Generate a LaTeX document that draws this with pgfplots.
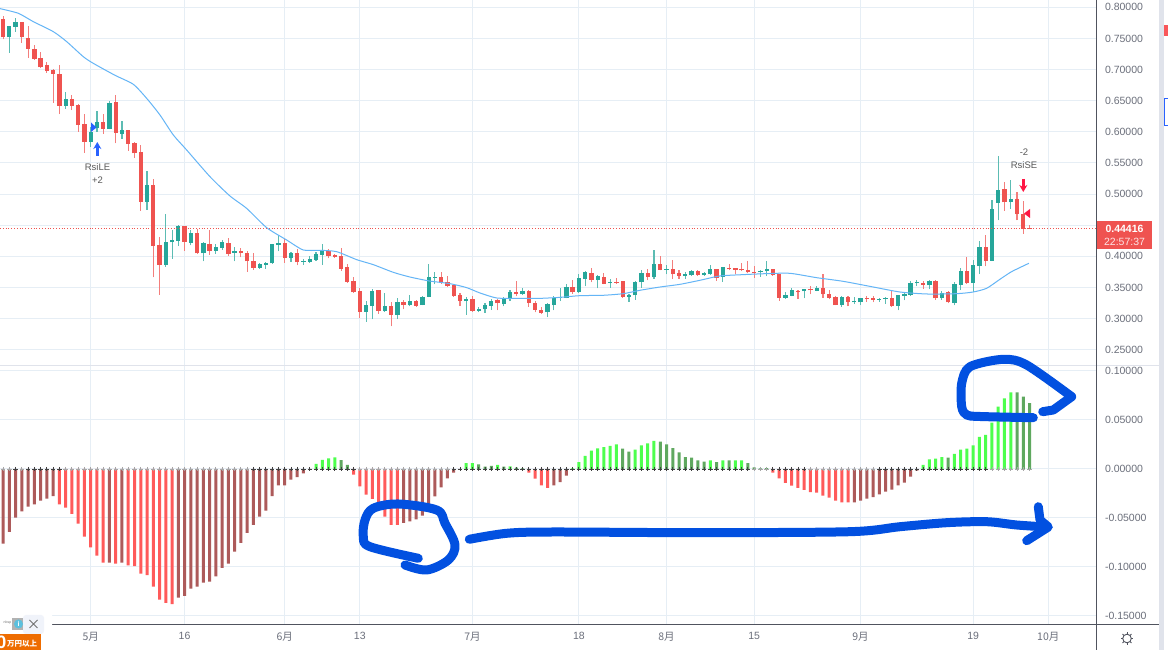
\documentclass[border=0pt]{standalone}
\usepackage{fontspec}
\usepackage{pgfplots}
\usepackage{pgfplotstable}
\usetikzlibrary{arrows.meta}
\pgfplotsset{compat=1.18}
\setmainfont{Liberation Sans}
\newfontfamily\cjk{Noto Sans CJK JP}
\definecolor{cup}{HTML}{26A69A}
\definecolor{cdn}{HTML}{EF5350}
\definecolor{gridc}{HTML}{E6EEF5}
\definecolor{txt}{HTML}{6B6F7B}
\definecolor{axc}{HTML}{50535E}
\definecolor{ma}{HTML}{64B5F6}
\definecolor{pen}{HTML}{0250E0}
\definecolor{hbr}{HTML}{FF5A5A}
\definecolor{hdr}{HTML}{AD5A5A}
\definecolor{hbg}{HTML}{4DFF4D}
\definecolor{hdg}{HTML}{5FA85F}
\definecolor{sep}{HTML}{E0E3EB}
\definecolor{tabred}{HTML}{F9575A}
\definecolor{sigblue}{HTML}{2962FF}
\definecolor{sigred}{HTML}{FF1744}
\definecolor{adorange}{HTML}{EE6C00}
\definecolor{adinfo}{HTML}{5BC0DE}
\definecolor{adbtn}{HTML}{F0F3FA}
\pgfplotstableread{
d o h l c
0 .7818 .7861 .7486 .7518
1 .7518 .7700 .7272 .7700
2 .7690 .7823 .7609 .7759
3 .7759 .7765 .7432 .7518
4 .7513 .7700 .7191 .7331
5 .7325 .7395 .7154 .7170
6 .7181 .7282 .7025 .7036
7 .7068 .7122 .6950 .6977
8 .6999 .7004 .6468 .6929
9 .6934 .7068 .6286 .6415
10 .6415 .6634 .6372 .6527
11 .6527 .6586 .6350 .6415
12 .6425 .6447 .5997 .6115
13 .6126 .6286 .5665 .5842
14 .5836 .6083 .5761 .6002
15 .6056 .6329 .5997 .6158
16 .6158 .6286 .5965 .6045
17 .6045 .6500 .6040 .6463
18 .6474 .6592 .5815 .5986
19 .5970 .6168 .5885 .6024
20 .6024 .6029 .5697 .5810
21 .5826 .5831 .5585 .5654
22 .5676 .5794 .4733 .4878
23 .4878 .5370 .4744 .5140
24 .5145 .5242 .3662 .4165
25 .4187 .4305 .3383 .3860
26 .3860 .4679 .3833 .4230
27 .4224 .4422 .3962 .4262
28 .4251 .4508 .4165 .4481
29 .4481 .4487 .4090 .4230
30 .4219 .4422 .4176 .4380
31 .4380 .4444 .4037 .4047
32 .4047 .4235 .3919 .4219
33 .4203 .4422 .4026 .4090
34 .4090 .4197 .4037 .4149
35 .4133 .4267 .4106 .4235
36 .4219 .4288 .4005 .4037
37 .4053 .4144 .3919 .4085
38 .4090 .4128 .3983 .4047
39 .4058 .4090 .3753 .3919
40 .3924 .4047 .3780 .3812
41 .3812 .3887 .3801 .3871
42 .3860 .3914 .3801 .3898
43 .3887 .4197 .3876 .4192
44 .4181 .4337 .4080 .4219
45 .4219 .4283 .3898 .3972
46 .3978 .4074 .3908 .4058
47 .4058 .4112 .3855 .3903
48 .3908 .3956 .3860 .3924
49 .3914 .4005 .3898 .3951
50 .3946 .4069 .3930 .4031
51 .4021 .4192 .3860 .4090
52 .4090 .4112 .3967 .4005
53 .4015 .4037 .3978 .3988
54 .4005 .4128 .3769 .3801
55 .3822 .3881 .3571 .3592
56 .3608 .3662 .3410 .3421
57 .3437 .3496 .3003 .3105
58 .3105 .3276 .2944 .3217
59 .3206 .3474 .2987 .3437
60 .3453 .3464 .3078 .3121
61 .3116 .3410 .3110 .3196
62 .3201 .3260 .2874 .3057
63 .3062 .3330 .2992 .3260
64 .3260 .3303 .3148 .3217
65 .3212 .3373 .3196 .3287
66 .3287 .3292 .3191 .3206
67 .3217 .3356 .3212 .3346
68 .3346 .3871 .3340 .3662
69 .3656 .3742 .3549 .3672
70 .3662 .3753 .3560 .3576
71 .3592 .3678 .3506 .3522
72 .3533 .3560 .3346 .3362
73 .3373 .3410 .3206 .3287
74 .3276 .3340 .3057 .3319
75 .3314 .3356 .3105 .3126
76 .3126 .3185 .3099 .3158
77 .3148 .3249 .3089 .3212
78 .3201 .3319 .3142 .3287
79 .3292 .3319 .3132 .3244
80 .3228 .3346 .3196 .3314
81 .3308 .3453 .3281 .3421
82 .3421 .3597 .3356 .3389
83 .3389 .3490 .3383 .3448
84 .3448 .3453 .3185 .3249
85 .3255 .3281 .3099 .3142
86 .3142 .3185 .3078 .3094
87 .3099 .3249 .3024 .3233
88 .3217 .3356 .3132 .3330
89 .3330 .3496 .3281 .3346
90 .3335 .3560 .3324 .3506
91 .3506 .3624 .3399 .3421
92 .3421 .3710 .3415 .3646
93 .3635 .3763 .3517 .3742
94 .3737 .3817 .3581 .3619
95 .3619 .3699 .3485 .3678
96 .3662 .3726 .3549 .3560
97 .3571 .3635 .3496 .3592
98 .3587 .3656 .3560 .3576
99 .3597 .3603 .3335 .3346
100 .3351 .3399 .3266 .3373
101 .3373 .3597 .3303 .3592
102 .3581 .3785 .3496 .3737
103 .3737 .3801 .3614 .3667
104 .3662 .4096 .3635 .3881
105 .3881 .3999 .3774 .3780
106 .3780 .3865 .3710 .3796
107 .3790 .3935 .3635 .3710
108 .3726 .3774 .3635 .3683
109 .3683 .3753 .3635 .3710
110 .3694 .3785 .3683 .3769
111 .3769 .3785 .3689 .3699
112 .3699 .3753 .3683 .3726
113 .3710 .3855 .3699 .3790
114 .3790 .3796 .3603 .3656
115 .3667 .3822 .3587 .3822
116 .3812 .3871 .3774 .3790
117 .3806 .3817 .3710 .3785
118 .3801 .3887 .3763 .3774
119 .3774 .3924 .3731 .3742
120 .3753 .3838 .3656 .3737
121 .3742 .3785 .3667 .3763
122 .3763 .3924 .3683 .3790
123 .3790 .3801 .3689 .3699
124 .3710 .3721 .3287 .3330
125 .3330 .3431 .3314 .3373
126 .3362 .3496 .3356 .3453
127 .3448 .3453 .3314 .3437
128 .3437 .3474 .3324 .3469
129 .3474 .3528 .3389 .3453
130 .3448 .3517 .3437 .3485
131 .3496 .3710 .3330 .3389
132 .3389 .3464 .3308 .3330
133 .3346 .3356 .3212 .3217
134 .3212 .3356 .3185 .3346
135 .3351 .3356 .3196 .3266
136 .3260 .3346 .3233 .3276
137 .3260 .3335 .3217 .3330
138 .3335 .3356 .3271 .3314
139 .3330 .3362 .3260 .3298
140 .3298 .3335 .3271 .3314
141 .3314 .3346 .3239 .3330
142 .3330 .3437 .3185 .3196
143 .3201 .3383 .3132 .3378
144 .3367 .3421 .3292 .3389
145 .3378 .3597 .3367 .3576
146 .3571 .3624 .3517 .3581
147 .3576 .3603 .3480 .3539
148 .3533 .3614 .3474 .3608
149 .3608 .3614 .3303 .3324
150 .3324 .3448 .3303 .3415
151 .3421 .3442 .3244 .3260
152 .3249 .3581 .3212 .3560
153 .3539 .3817 .3464 .3763
154 .3763 .3983 .3560 .3571
155 .3571 .3935 .3421 .3855
156 .3838 .4246 .3715 .4144
157 .4144 .4347 .3838 .3924
158 .3930 .4906 .3924 .4762
159 .4856 .5606 .4578 .5060
160 .5081 .5199 .4728 .4867
161 .4867 .5220 .4760 .4926
162 .4926 .5028 .4578 .4679
163 .4685 .4883 .4363 .4444
164 .4454 .4497 .4439 .4439
}\candles
\pgfplotstableread{
d ma
-0.49 .7979
2.44 .7904
4.83 .7770
8.03 .7609
10.16 .7449
12.82 .7207
14.42 .7100
17.88 .6908
20.81 .6763
22.94 .6538
25.07 .6270
27.2 .5949
29.33 .5708
33.06 .5279
36.25 .4969
38.91 .4770
42.11 .4460
45.3 .4262
47.97 .4101
50.63 .4096
53.29 .4074
56.49 .3946
59.16 .3865
62.35 .3742
65.0 .3667
68.1 .3603
71.4 .3560
74.07 .3496
76.2 .3410
78.86 .3330
82.05 .3324
85.78 .3324
88.98 .3340
92.17 .3367
95.9 .3373
99.09 .3399
101.75 .3453
104.95 .3506
108.14 .3549
111.34 .3614
114.5 .3683
118.27 .3705
122 .3721
125.73 .3726
129.99 .3656
134.25 .3597
139.04 .3506
143.3 .3426
147.56 .3394
152.35 .3399
155 .3426
157.14 .3485
159.27 .3630
161.14 .3753
163.9 .3887
}\maline
\pgfplotstableread{
d v c m
0 -.0762 2 0
1 -.0643 2 0
2 -.0497 2 1
3 -.0432 2 0
4 -.0384 2 1
5 -.0361 2 1
6 -.0323 2 1
7 -.0303 2 1
8 -.0276 2 1
9 -.0361 1 1
10 -.0395 1 0
11 -.0459 1 0
12 -.0558 1 0
13 -.0690 1 0
14 -.0799 1 0
15 -.0884 1 0
16 -.0956 1 0
17 -.0956 2 0
18 -.0966 1 0
19 -.0956 2 0
20 -.0983 1 0
21 -.0990 1 0
22 -.1068 1 0
23 -.1082 1 0
24 -.1201 1 0
25 -.1333 1 0
26 -.1367 1 0
27 -.1378 1 0
28 -.1313 2 0
29 -.1296 2 0
30 -.1221 2 0
31 -.1201 2 0
32 -.1160 2 0
33 -.1150 2 0
34 -.1095 2 0
35 -.1010 2 0
36 -.0966 2 0
37 -.0844 2 0
38 -.0755 2 0
39 -.0653 2 0
40 -.0571 2 1
41 -.0486 2 1
42 -.0425 2 1
43 -.0276 2 1
44 -.0167 2 1
45 -.0167 2 1
46 -.0109 2 1
47 -.0082 2 1
48 -.0044 2 1
49 -.0007 2 1
50 .0051 3 1
51 .0092 3 1
52 .0109 3 1
53 .0119 3 1
54 .0090 4 1
55 .0042 4 1
56 -.0058 1 1
57 -.0177 1 0
58 -.0262 1 0
59 -.0306 1 0
60 -.0367 1 0
61 -.0486 1 0
62 -.0571 1 0
63 -.0571 1 0
64 -.0551 2 0
65 -.0534 2 0
66 -.0514 2 0
67 -.0476 2 0
68 -.0367 2 0
69 -.0279 2 0
70 -.0187 2 0
71 -.0095 2 0
72 -.0037 2 1
73 -.0003 2 1
74 .0061 3 1
75 .0061 3 1
76 .0048 4 1
77 .0024 4 1
78 .0031 4 1
79 .0041 3 1
80 .0024 4 1
81 .0027 3 1
82 .0014 4 1
83 .0007 4 1
84 -.0037 1 1
85 -.0099 1 1
86 -.0167 1 1
87 -.0194 1 1
88 -.0167 2 1
89 -.0133 2 1
90 -.0068 2 1
91 .0007 3 1
92 .0071 3 1
93 .0133 3 1
94 .0187 3 1
95 .0211 3 1
96 .0224 3 1
97 .0235 3 1
98 .0252 3 1
99 .0207 4 1
100 .0177 4 1
101 .0197 3 1
102 .0241 3 1
103 .0262 3 1
104 .0286 3 1
105 .0279 4 1
106 .0252 4 1
107 .0214 4 1
108 .0170 4 1
109 .0122 4 1
110 .0116 4 1
111 .0088 4 1
112 .0075 4 1
113 .0088 3 1
114 .0071 4 1
115 .0088 3 1
116 .0088 4 1
117 .0088 3 1
118 .0088 3 1
119 .0061 4 1
120 .0017 4 0
121 .0007 4 0
122 .0010 4 0
123 -.0037 1 1
124 -.0095 1 1
125 -.0143 1 1
126 -.0170 1 1
127 -.0194 1 1
128 -.0214 1 1
129 -.0235 1 0
130 -.0241 1 0
131 -.0272 1 0
132 -.0293 1 0
133 -.0323 1 0
134 -.0340 1 0
135 -.0340 1 0
136 -.0340 2 0
137 -.0323 2 0
138 -.0303 2 0
139 -.0286 2 0
140 -.0259 2 1
141 -.0231 2 1
142 -.0211 2 1
143 -.0167 2 1
144 -.0139 2 1
145 -.0078 2 1
146 -.0017 2 1
147 .0041 3 1
148 .0099 3 1
149 .0105 3 1
150 .0122 3 1
151 .0116 4 1
152 .0153 3 1
153 .0197 3 1
154 .0207 3 1
155 .0241 3 1
156 .0327 3 1
157 .0347 3 1
158 .0473 3 0
159 .0636 3 0
160 .0721 3 0
161 .0782 3 0
162 .0782 4 0
163 .0738 4 0
164 .0673 4 0
}\hist
\pgfplotsset{
  chart/.style={
    scale only axis,width=1096.5pt,
    xmin=-0.4905,xmax=174.70,
    xtick={14,29,45,57,75,92,106,120,137,155,167},
    grid=major,grid style={gridc,line width=1pt},
    axis line style={draw=none},
    major tick length=0pt,
    ytick pos=right,yticklabel pos=right,
    tick label style={font=\fontsize{10.5}{12}\selectfont,text=txt},
    yticklabel style={xshift=5pt,/pgf/number format/.cd,fixed,fixed zerofill,precision=5,assume math mode=true},
    xticklabel style={yshift=-3.5pt},
    unbounded coords=discard,
  },
  wick/.style={draw=none,mark=none,forget plot,
    error bars/y dir=plus,error bars/y explicit,error bars/error mark=none,
    error bars/error bar style={draw=#1,line width=1.1pt}},
  body/.style={draw=none,mark=none,forget plot,
    error bars/y dir=plus,error bars/y explicit,error bars/error mark=none,
    error bars/error bar style={draw=#1,line width=4.3pt}},
}
\begin{document}
\begin{tikzpicture}[x=1pt,y=1pt]
\useasboundingbox (0pt,0pt) rectangle (1168pt,650pt);
\fill[white] (0pt,0pt) rectangle (1168pt,650pt);
% price pane
\begin{axis}[chart,at={(0pt,284.5pt)},anchor=south west,height=365.5pt,
  ymin=.2245,ymax=.8118,
  ytick={.25,.30,.35,.40,.50,.55,.60,.65,.70,.75,.80},
  extra y ticks={.45},extra y tick labels={},extra tick style={grid=major},
  xticklabels={}]
\addplot[wick=cup!75!white,restrict expr to domain={\thisrow{c}-\thisrow{o}}{0:1}]
  table[x=d,y=l,y error plus expr=\thisrow{h}-\thisrow{l}]{\candles};
\addplot[wick=cdn!75!white,restrict expr to domain={\thisrow{o}-\thisrow{c}}{0:1}]
  table[x=d,y=l,y error plus expr=\thisrow{h}-\thisrow{l}]{\candles};
\addplot[body=cup,restrict expr to domain={\thisrow{c}-\thisrow{o}}{0:1}]
  table[x=d,y=o,y error plus expr=\thisrow{c}-\thisrow{o}]{\candles};
\addplot[body=cdn,restrict expr to domain={\thisrow{o}-\thisrow{c}}{0:1}]
  table[x=d,y=c,y error plus expr=\thisrow{o}-\thisrow{c}]{\candles};
\addplot[ma,line width=1pt,smooth,tension=0.4] table[x=d,y=ma]{\maline};
\addplot[cdn,line width=0.8pt,dotted] coordinates {(-0.4905,.44416)(174.7,.44416)};
\end{axis}
% histogram pane
\begin{axis}[chart,at={(0pt,25pt)},anchor=south west,height=259pt,
  ymin=-.1592,ymax=.1051,
  ytick={-.15,-.10,-.05,0,.05,.10},
  xticklabels={{\cjk 5月},16,{\cjk 6月},13,{\cjk 7月},18,{\cjk 8月},15,{\cjk 9月},19,{\cjk 10月}}]
\addplot[ybar,bar width=3pt,bar shift=0pt,fill=hbr,draw=none,restrict expr to domain={\thisrow{c}}{1:1}] table[x=d,y=v]{\hist};
\addplot[ybar,bar width=3pt,bar shift=0pt,fill=hdr,draw=none,restrict expr to domain={\thisrow{c}}{2:2}] table[x=d,y=v]{\hist};
\addplot[ybar,bar width=3pt,bar shift=0pt,fill=hbg,draw=none,restrict expr to domain={\thisrow{c}}{3:3}] table[x=d,y=v]{\hist};
\addplot[ybar,bar width=3pt,bar shift=0pt,fill=hdg,draw=none,restrict expr to domain={\thisrow{c}}{4:4}] table[x=d,y=v]{\hist};
\addplot[only marks,mark=+,mark size=2.2pt,mark options={black!75,line width=0.9pt},restrict expr to domain={\thisrow{m}}{1:1}] table[x=d,y expr=0]{\hist};
\addplot[only marks,mark=+,mark size=2.2pt,mark options={black!35,line width=0.9pt},restrict expr to domain={\thisrow{m}}{0:0}] table[x=d,y expr=0]{\hist};
\end{axis}
% frame, labels and hand-drawn marks, in picture pixels measured from the top left
\begin{scope}[shift={(0pt,650pt)},x=1pt,y=-1pt]
\draw[sep,line width=1pt] (0,365.5) -- (1159,365.5);
\draw[axc,line width=1pt] (1096.7,0) -- (1096.7,650);
\draw[axc,line width=1pt] (0,625) -- (1159,625);
\fill[sep] (1159,0) rectangle (1164,650);
\fill[tabred] (1164,25) rectangle (1168,36);
\draw[sigblue,line width=0.8pt] (1168,98) -- (1164.5,98) -- (1164.5,125) -- (1168,125);
% last price
\fill[cdn] (1096.7,221) rectangle (1152,249);
\node[white,font=\fontsize{10.5}{12}\selectfont\bfseries] at (1124.5,228.5) {0.44416};
\node[white!85!cdn,font=\fontsize{10.5}{12}\selectfont] at (1124.5,241.5) {22:57:37};
% gear
\draw[axc,line width=0.9pt] (1127,638.5) circle (4.3);
\foreach \a in {0,45,...,315}
  \draw[axc,line width=0.9pt] (1127,638.5) ++(\a:4.3) -- ++(\a:2);
% strategy signals
\node[black!65,font=\fontsize{9.5}{11}\selectfont] at (97.5,167) {RsiLE};
\node[black!65,font=\fontsize{9.5}{11}\selectfont] at (97.5,180) {+2};
\draw[sigblue,line width=2.4pt,-{Stealth[length=7pt,width=8pt]}] (97.3,156) -- (97.3,142);
\fill[sigblue] (91,122.5) -- (96.5,127.5) -- (91,132) -- cycle;
\node[black!65,font=\fontsize{9.5}{11}\selectfont] at (1024,152) {-2};
\node[black!65,font=\fontsize{9.5}{11}\selectfont] at (1024,165) {RsiSE};
\draw[sigred,line width=2.4pt,-{Stealth[length=7pt,width=8pt]}] (1023.3,179) -- (1023.3,192);
\fill[sigred] (1030,209) -- (1024,213.5) -- (1030,218) -- cycle;
% blue pen strokes
\begin{scope}[pen,line width=9pt,line cap=round,line join=round]
\draw[pen] plot[smooth,tension=0.55] coordinates {(418.3,558.3)(370,546.7)(363.3,536.7)(365,520)(373.3,508.3)(398.3,504)(436.7,510)(445,523.3)(455,545)(448.3,560)(426.7,570)(405,565)};
\draw[pen] plot[smooth,tension=0.5] coordinates {(469.3,539.3)(506.7,533.3)(553,532)(700,532.7)(850,531.7)(900,526.7)(946.7,522.7)(986.7,521.7)(1016.7,525)(1046.7,527)};
\draw[pen] (1038.3,506.7) -- (1040,520) -- (1048.3,527) -- (1026.7,540.7);
\draw[pen] plot[smooth,tension=0.5] coordinates {(1033.3,417.7)(980,416.5)(966.7,415)(961.7,406.7)(961.7,383.3)(970,366.7)(1003.3,359.3)(1026.7,365)(1071.7,396.7)};
\draw[pen] (1071.7,396.7) -- (1053.3,410) -- (1042.7,411.7);
\end{scope}
% advertisement corner
\fill[white,rounded corners=6pt] (-8,605) rectangle (52,660);
\fill[adorange] (0,634) rectangle (41,650);
\node[white,anchor=east,inner sep=0pt,font=\fontsize{18}{18}\selectfont\bfseries] at (6.5,642.5) {0};
\node[white,anchor=west,inner sep=0pt,font=\cjk\fontsize{7.5}{8}\selectfont\bfseries] at (6.8,644) {万円以上};
\fill[black!30] (12,618) rectangle (24,630);
\fill[adinfo] (18.5,624) circle (4.5);
\node[white,font=\fontsize{7}{7}\selectfont\bfseries] at (18.5,624) {i};
\node[black!55,font=\fontsize{3.5}{4}\selectfont] at (7.5,623) {nbsp};
\fill[adbtn,rounded corners=3pt] (23,615) rectangle (44,634);
\draw[black!55,line width=0.9pt] (29.5,620) -- (37.5,628) (37.5,620) -- (29.5,628);
\end{scope}
\end{tikzpicture}
\end{document}
